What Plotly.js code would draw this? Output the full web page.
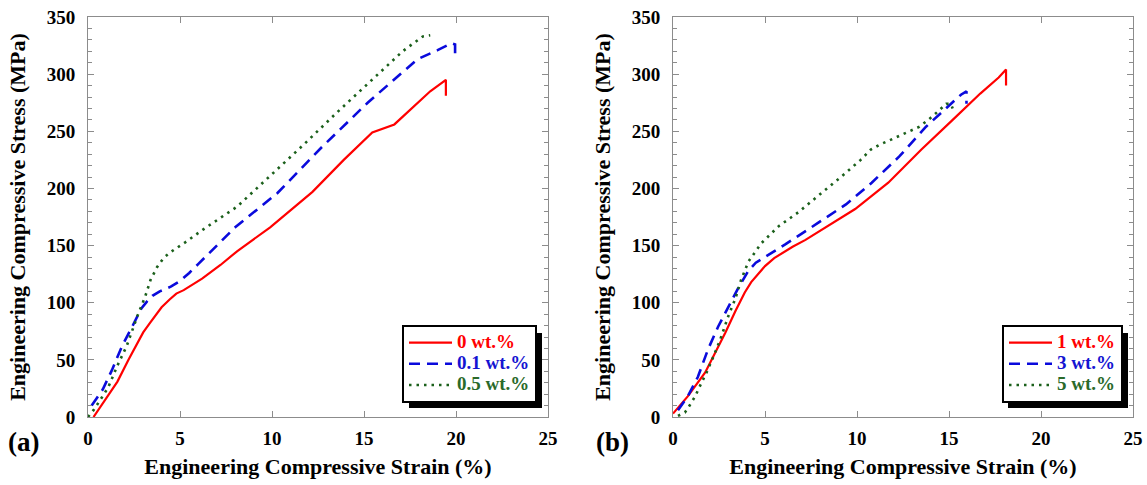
<!DOCTYPE html>
<html>
<head>
<meta charset="utf-8">
<script src="https://cdn.plot.ly/plotly-3.0.1.min.js"></script>
<style>html,body{margin:0;padding:0;background:#fff;}#chart{width:1147px;height:485px;}</style>
</head>
<body>
<div id="chart"></div>
<script>
// ---- Data ----
// Panel (a)
const strainA0 = [0.3, 0.8, 1.6, 2.2, 3.0, 3.4, 4.0, 4.45, 4.8, 5.2, 5.6, 6.2, 7.2, 8.1, 9.9, 12.2, 13.9, 15.45, 16.65, 17.7, 18.6, 19.45, 19.45];
const stressA0 = [0, 12, 31, 50, 74, 83, 96, 103, 108, 111, 115, 121, 133, 145, 166, 197, 225, 249, 256, 272, 285, 295, 281];
const strainA01 = [0.2, 0.8, 1.3, 1.85, 2.4, 2.9, 3.2, 3.5, 3.9, 4.5, 5.0, 5.5, 6.0, 6.5, 7.2, 8.0, 10.3, 12.7, 15.2, 17.9, 19.0, 19.75, 19.95, 19.95];
const stressA01 = [10, 24, 41, 62, 79, 95, 101, 106, 110, 114, 119, 126, 134, 142, 153, 166, 196, 236, 275, 313, 321, 327, 326, 314];
const strainA05 = [0, 0.3, 0.75, 1.1, 1.6, 2.1, 2.7, 3.1, 3.4, 3.75, 4.1, 4.46, 5.3, 6.25, 8.1, 9.9, 11.7, 13.5, 15.3, 16.6, 17.1, 17.6, 18.2, 18.6];
const stressA05 = [0, 6, 17, 26, 45, 62, 89, 105, 120, 131, 139, 144, 153, 164, 184, 211, 238, 266, 293, 313, 320, 326, 333, 334];
// Panel (b)
const strainB1 = [0, 0.8, 1.75, 2.3, 2.85, 3.4, 3.9, 4.25, 4.65, 5.0, 5.5, 6.0, 6.5, 7.2, 8.1, 9.9, 11.7, 13.5, 15.2, 16.7, 17.7, 18.1, 18.1];
const stressB1 = [3, 18, 39, 56, 74, 93, 109, 118, 126, 132, 139, 144, 149, 155, 164, 182, 205, 234, 260, 283, 297, 304, 290];
const strainB3 = [0.27, 0.8, 1.35, 1.9, 2.45, 3.0, 3.55, 4.1, 4.5, 5.0, 5.5, 6.1, 7.9, 9.4, 10.8, 12.3, 13.75, 15.0, 15.65, 15.95, 15.95];
const stressB3 = [6, 18, 35, 59, 79, 96, 113, 128, 135, 140, 145, 151, 170, 186, 205, 228, 254, 272, 282, 285, 274];
const strainB5 = [0.27, 0.65, 0.9, 1.2, 1.55, 1.8, 2.2, 2.55, 3.0, 3.4, 3.7, 4.1, 4.8, 5.75, 6.8, 8.1, 9.2, 10.2, 10.75, 11.2, 12.3, 13.4, 14.1, 14.85, 15.1, 15.2];
const stressB5 = [1, 4, 10, 18, 30, 38, 53, 67, 88, 104, 120, 136, 152, 167, 179, 196, 211, 225, 234, 238, 246, 254, 263, 274, 274, 270];

const namesA = ['0 wt.%', '0.1 wt.%', '0.5 wt.%'];
const namesB = ['1 wt.%', '3 wt.%', '5 wt.%'];
const xTickVals = [0, 5, 10, 15, 20, 25];
const yTickVals = [0, 50, 100, 150, 200, 250, 300, 350];
const xTitle = 'Engineering Compressive Strain (%)';
const yTitle = 'Engineering Compressive Stress (MPa)';
const panelLabels = ['(a)', '(b)'];

// ---- Styles ----
const RED = '#ff0000', BLUE = '#0a0adc', GREEN = '#1b601b';
const LEG_TXT = ['#ff0000', '#1414d2', '#2a6a2a'];
const FONT = 'Liberation Serif, Times New Roman, serif';
const W = 1147, H = 485;
const styles = [
  {color: RED, width: 2.2, dash: 'solid'},
  {color: BLUE, width: 2.6, dash: '11px,7px'},
  {color: GREEN, width: 2.6, dash: '2.5px,5px'}
];
function label(name, i) {
  return '<span style="color:' + LEG_TXT[i] + ';font-size:19px">' + name + '</span>';
}
function trace(x, y, i, names, xa, ya, leg) {
  return {
    x: x, y: y, xaxis: xa, yaxis: ya, legend: leg,
    type: 'scatter', mode: 'lines', name: label(names[i], i),
    line: {color: styles[i].color, width: styles[i].width, dash: styles[i].dash},
    hoverinfo: 'x+y'
  };
}
const data = [
  trace(strainA0, stressA0, 0, namesA, 'x', 'y', 'legend'),
  trace(strainA01, stressA01, 1, namesA, 'x', 'y', 'legend'),
  trace(strainA05, stressA05, 2, namesA, 'x', 'y', 'legend'),
  trace(strainB1, stressB1, 0, namesB, 'x2', 'y2', 'legend2'),
  trace(strainB3, stressB3, 1, namesB, 'x2', 'y2', 'legend2'),
  trace(strainB5, stressB5, 2, namesB, 'x2', 'y2', 'legend2')
];

const yDom = [(H - 417) / H, (H - 17) / H];
const AX = '#8c8c8c';
function xAxis(dom, anchor) {
  return {
    domain: dom, anchor: anchor, range: [0, 25], tickvals: xTickVals, ticktext: xTickVals.map(String),
    showline: true, linecolor: AX, linewidth: 1, mirror: 'allticks',
    ticks: 'inside', ticklen: 6, tickcolor: AX, tickwidth: 1,
    showgrid: false, zeroline: false, ticklabelstandoff: 4,
    tickfont: {family: FONT, size: 19, color: '#000', weight: 'bold'},
    title: {text: '<b>' + xTitle + '</b>', font: {family: FONT, size: 22, color: '#000'}, standoff: 10}
  };
}
function yAxis(anchor) {
  return {
    domain: yDom, anchor: anchor, range: [0, 350], tickvals: yTickVals, ticktext: yTickVals.map(String),
    showline: true, linecolor: AX, linewidth: 1, mirror: 'allticks',
    ticks: 'inside', ticklen: 6, tickcolor: AX, tickwidth: 1,
    minor: {dtick: 10, ticks: 'inside', ticklen: 4, tickcolor: AX, tickwidth: 1, showgrid: false},
    showgrid: false, zeroline: false, ticklabelstandoff: 8,
    tickfont: {family: FONT, size: 19, color: '#000', weight: 'bold'},
    title: {text: '<b>' + yTitle + '</b>', font: {family: FONT, size: 22, color: '#000'}, standoff: 15}
  };
}
function legend(xRight) {
  return {
    x: xRight / W, xanchor: 'right', y: (H - 403) / H, yanchor: 'bottom',
    bgcolor: '#ffffff', bordercolor: '#000000', borderwidth: 2,
    font: {family: FONT, size: 14, color: '#000', weight: 'bold'},
    itemwidth: 43, tracegroupgap: 0, traceorder: 'normal'
  };
}
function shadow(x0, x1) {
  return {type: 'rect', xref: 'paper', yref: 'paper', layer: 'above',
    x0: x0 / W, x1: x1 / W, y0: (H - 408) / H, y1: (H - 333) / H,
    fillcolor: '#000', line: {width: 0}};
}
const layout = {
  width: W, height: H, margin: {l: 0, r: 0, t: 0, b: 0},
  paper_bgcolor: '#fff', plot_bgcolor: '#fff', showlegend: true,
  xaxis: xAxis([88 / W, 548 / W], 'y'),
  yaxis: yAxis('x'),
  xaxis2: xAxis([673 / W, 1133 / W], 'y2'),
  yaxis2: yAxis('x2'),
  legend: legend(537),
  legend2: legend(1123),
  shapes: [shadow(409, 542), shadow(1008, 1128)],
  annotations: [
    {text: '<b>' + panelLabels[0] + '</b>', xref: 'paper', yref: 'paper', x: 6 / W, y: (H - 442) / H,
      xanchor: 'left', yanchor: 'middle', showarrow: false, font: {family: FONT, size: 27, color: '#000'}},
    {text: '<b>' + panelLabels[1] + '</b>', xref: 'paper', yref: 'paper', x: 594 / W, y: (H - 442) / H,
      xanchor: 'left', yanchor: 'middle', showarrow: false, font: {family: FONT, size: 27, color: '#000'}}
  ]
};
Plotly.newPlot('chart', data, layout, {displayModeBar: false});
</script>
</body>
</html>
